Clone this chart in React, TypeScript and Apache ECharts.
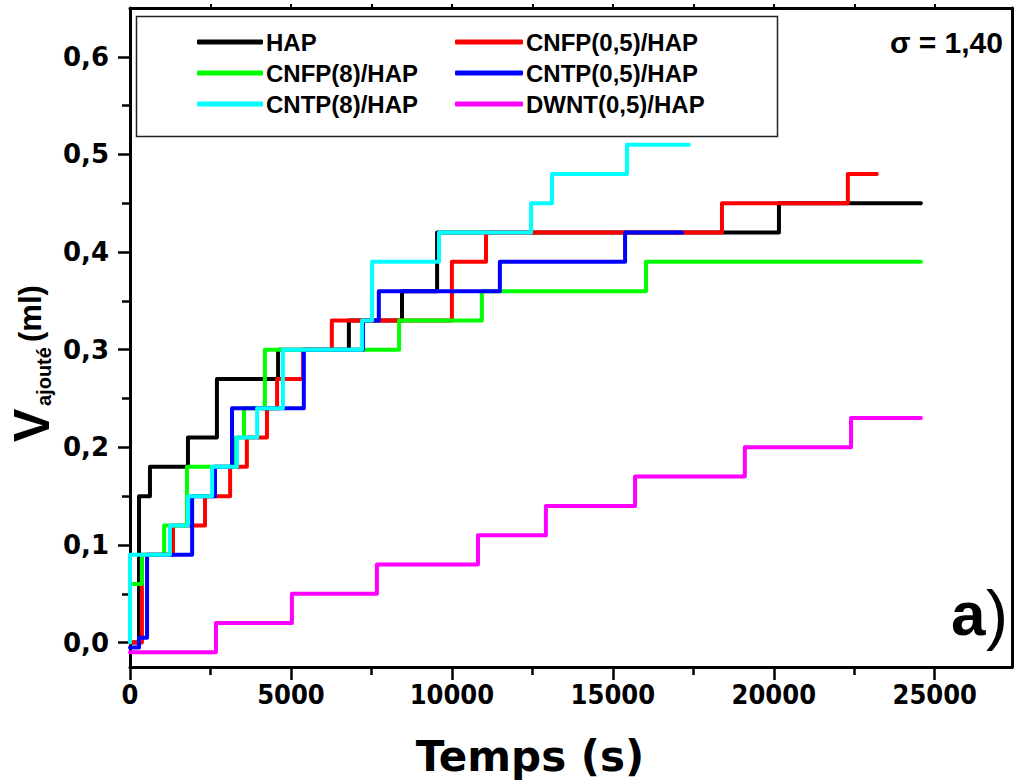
import React, { useEffect, useRef } from 'react';
import * as echarts from 'echarts';

const seriesNames = ['HAP', 'CNFP(0,5)/HAP', 'CNFP(8)/HAP', 'CNTP(0,5)/HAP', 'CNTP(8)/HAP', 'DWNT(0,5)/HAP'];
const seriesColors = ['#000000', '#ff0000', '#00ff00', '#0000ff', '#00ffff', '#ff00ff'];

const hapT = [0, 280, 620, 1800, 2700, 4600, 6800, 8450, 9540, 20160, 24570];
const hapV = [0.0, 0.15, 0.18, 0.21, 0.27, 0.30, 0.33, 0.36, 0.42, 0.45, 0.45];

const cnfp05T = [0, 370, 1335, 2330, 3110, 3630, 4255, 4570, 5380, 6270, 10000, 11060, 18390, 22300, 23200];
const cnfp05V = [0.0, 0.09, 0.12, 0.15, 0.18, 0.21, 0.24, 0.27, 0.30, 0.33, 0.39, 0.42, 0.45, 0.48, 0.48];

const cnfp8T = [0, 370, 1060, 1770, 3290, 3540, 4190, 8360, 10930, 16030, 24570];
const cnfp8V = [0.06, 0.09, 0.12, 0.18, 0.21, 0.24, 0.30, 0.33, 0.36, 0.39, 0.39];

const cntp05T = [0, 280, 530, 1930, 2640, 3170, 5400, 7240, 7730, 11490, 15380, 17150];
const cntp05V = [-0.005, 0.005, 0.09, 0.15, 0.18, 0.24, 0.30, 0.33, 0.36, 0.39, 0.42, 0.42];

const cntp8T = [0, 0, 1240, 1800, 2550, 3320, 3950, 4750, 7210, 7520, 9600, 12460, 13110, 15440, 17360];
const cntp8V = [0.0, 0.09, 0.12, 0.15, 0.18, 0.21, 0.24, 0.30, 0.33, 0.39, 0.42, 0.45, 0.48, 0.51, 0.51];

const dwntT = [0, 2670, 5030, 7670, 10810, 12920, 15690, 19100, 22400, 24570];
const dwntV = [-0.01, 0.02, 0.05, 0.08, 0.11, 0.14, 0.17, 0.20, 0.23, 0.23];

const seriesTimes = [hapT, cnfp05T, cnfp8T, cntp05T, cntp8T, dwntT];
const seriesValues = [hapV, cnfp05V, cnfp8V, cntp05V, cntp8V, dwntV];

const xMajorTicks = [0, 5000, 10000, 15000, 20000, 25000];
const xMinorTicks = [2500, 7500, 12500, 17500, 22500];
const xTopTicks = [2500, 5000, 7500, 10000, 12500, 15000, 17500, 20000, 22500, 25000];
const yMajorTicks = [0, 0.1, 0.2, 0.3, 0.4, 0.5, 0.6];
const yMinorTicks = [0.05, 0.15, 0.25, 0.35, 0.45, 0.55];

const X_MIN = 0;
const X_MAX = 27400;
const Y_MIN = -0.025;
const Y_MAX = 0.65;

const SANS = "'Liberation Sans', Arial, sans-serif";
const DEJAVU = "'DejaVu Sans', sans-serif";

export default function App() {
  const ref = useRef<HTMLDivElement>(null);

  useEffect(() => {
    if (!ref.current) return;
    const chart = echarts.init(ref.current, undefined, { renderer: 'svg' });

    const series = seriesNames.map((name, i) => ({
      name,
      type: 'line',
      step: 'end',
      xAxisIndex: 0,
      yAxisIndex: 0,
      showSymbol: false,
      symbol: 'none',
      color: seriesColors[i],
      lineStyle: { color: seriesColors[i], width: 4, cap: 'round', join: 'round' },
      data: seriesTimes[i].map((t, k) => [t, seriesValues[i][k]]),
    }));

    const axisLineStyle = { color: '#000', width: 3 };

    chart.setOption({
      animation: false,
      grid: { left: 130, right: 3, top: 8, bottom: 113 },
      xAxis: [
        {
          type: 'value', min: X_MIN, max: X_MAX, position: 'bottom',
          axisLine: { show: true, onZero: false, lineStyle: axisLineStyle },
          axisTick: { show: true, customValues: xMajorTicks, length: 13, lineStyle: { color: '#000', width: 2.5 } },
          axisLabel: {
            customValues: xMajorTicks, margin: 14, color: '#000', fontSize: 27, fontWeight: 'bold',
            fontFamily: "'DejaVu Sans Condensed', 'Liberation Sans', sans-serif",
            formatter: (v: number) => String(Math.round(v)),
          },
          splitLine: { show: false },
        },
        {
          type: 'value', min: X_MIN, max: X_MAX, position: 'bottom',
          axisLine: { show: false, onZero: false },
          axisTick: { show: true, customValues: xMinorTicks, length: 8, lineStyle: { color: '#000', width: 2.5 } },
          axisLabel: { show: false },
          splitLine: { show: false },
        },
        {
          type: 'value', min: X_MIN, max: X_MAX, position: 'top',
          axisLine: { show: true, onZero: false, lineStyle: axisLineStyle },
          axisTick: { show: true, customValues: xTopTicks, length: 4, lineStyle: { color: '#000', width: 2 } },
          axisLabel: { show: false },
          splitLine: { show: false },
        },
      ],
      yAxis: [
        {
          type: 'value', min: Y_MIN, max: Y_MAX, position: 'left',
          axisLine: { show: true, onZero: false, lineStyle: axisLineStyle },
          axisTick: { show: true, customValues: yMajorTicks, length: 12, lineStyle: { color: '#000', width: 2.5 } },
          axisLabel: {
            customValues: yMajorTicks, margin: 21, color: '#000', fontSize: 26, fontWeight: 'bold', fontFamily: DEJAVU,
            formatter: (v: number) => v.toFixed(1).replace('.', ','),
          },
          splitLine: { show: false },
        },
        {
          type: 'value', min: Y_MIN, max: Y_MAX, position: 'left',
          axisLine: { show: false, onZero: false },
          axisTick: { show: true, customValues: yMinorTicks, length: 8, lineStyle: { color: '#000', width: 2.5 } },
          axisLabel: { show: false },
          splitLine: { show: false },
        },
        {
          type: 'value', min: Y_MIN, max: Y_MAX, position: 'right',
          axisLine: { show: true, onZero: false, lineStyle: axisLineStyle },
          axisTick: { show: false },
          axisLabel: { show: false },
          splitLine: { show: false },
        },
      ],
      legend: [
        {
          data: [seriesNames[0], seriesNames[2], seriesNames[4]],
          orient: 'vertical', left: 197, top: 30, padding: 0, itemGap: 7,
          icon: 'roundRect', itemWidth: 66, itemHeight: 5,
          textStyle: { color: '#000', fontSize: 24, fontWeight: 'bold', fontFamily: SANS, lineHeight: 24, padding: [0, 0, 0, -2] },
          selectedMode: false,
        },
        {
          data: [seriesNames[1], seriesNames[3], seriesNames[5]],
          orient: 'vertical', left: 455, top: 30, padding: 0, itemGap: 7,
          icon: 'roundRect', itemWidth: 68, itemHeight: 5,
          textStyle: { color: '#000', fontSize: 24, fontWeight: 'bold', fontFamily: SANS, lineHeight: 24, padding: [0, 0, 0, -2] },
          selectedMode: false,
        },
      ],
      graphic: [
        {
          type: 'rect', left: 134, top: 14, z: 100,
          shape: { width: 641, height: 120 },
          style: { fill: 'none', stroke: '#222', lineWidth: 1.5 },
          silent: true,
        },
        {
          type: 'text', x: 1003, y: 42, z: 100,
          style: { text: 'σ = 1,40', align: 'right', verticalAlign: 'middle', fontSize: 30, fontWeight: 'bold', fontFamily: SANS, fill: '#000' },
        },
        {
          type: 'text', x: 951, y: 613, z: 100,
          style: { text: 'a', align: 'left', verticalAlign: 'middle', fontSize: 62, fontWeight: 'bold', fontFamily: SANS, fill: '#000' },
        },
        {
          type: 'text', x: 986, y: 614, z: 100,
          style: { text: ')', align: 'left', verticalAlign: 'middle', fontSize: 66, fontWeight: 'normal', fontFamily: SANS, fill: '#000' },
        },
        {
          type: 'text', x: 530, y: 756, z: 100,
          style: { text: 'Temps (s)', align: 'center', verticalAlign: 'middle', fontSize: 42, fontWeight: 'bold', fontFamily: DEJAVU, fill: '#000' },
        },
        {
          type: 'group', x: 0, y: 780, rotation: Math.PI / 2, z: 100,
          children: [
            { type: 'text', x: 338, y: 32, style: { text: 'V', align: 'left', verticalAlign: 'middle', fontSize: 50, fontWeight: 'bold', fontFamily: SANS, fill: '#000' } },
            { type: 'text', x: 374, y: 44, style: { text: 'ajouté', align: 'left', verticalAlign: 'middle', fontSize: 20, fontWeight: 'bold', fontFamily: SANS, fill: '#000' } },
            { type: 'text', x: 438, y: 30, style: { text: '(ml)', align: 'left', verticalAlign: 'middle', fontSize: 31, fontWeight: 'bold', fontFamily: SANS, fill: '#000' } },
          ],
        },
      ],
      series,
    });

    return () => chart.dispose();
  }, []);

  return <div ref={ref} style={{ position: 'fixed', left: 0, top: 0, width: 1015, height: 780, background: '#fff' }} />;
}
